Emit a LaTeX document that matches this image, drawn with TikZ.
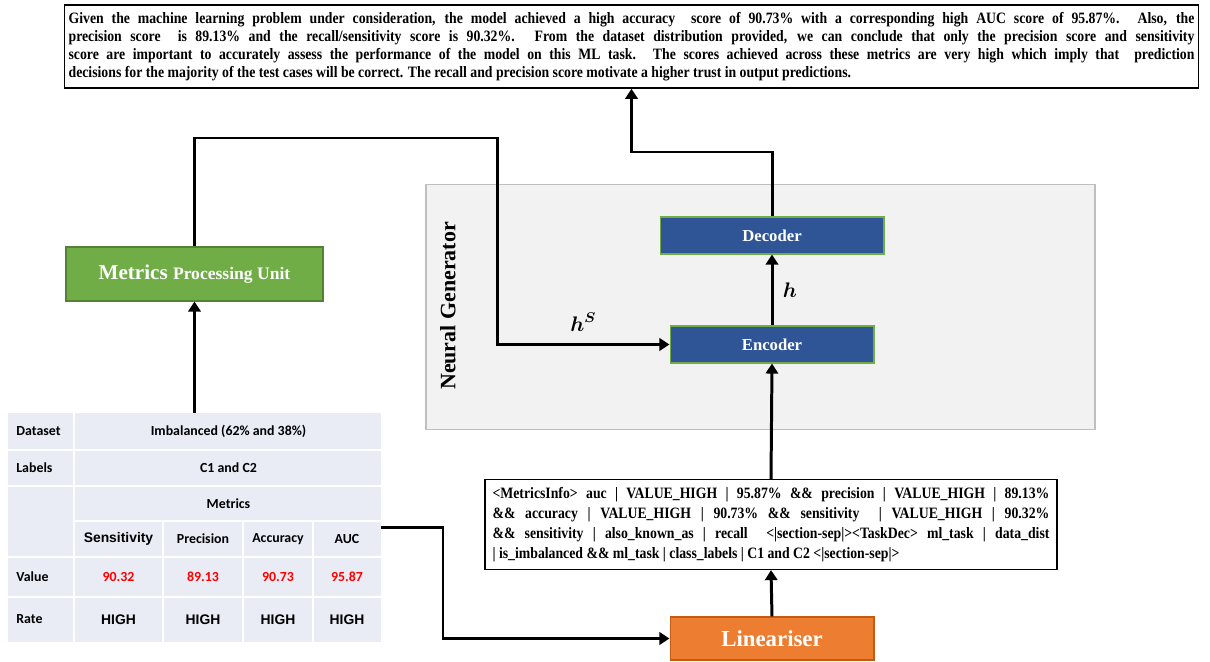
\documentclass[tikz,border=0pt]{standalone}
\usepackage{amsmath, amssymb}
\usepackage{fontspec}
\setmainfont{Liberation Serif}
\newfontfamily\condfont[FakeStretch=0.87]{Liberation Serif}
\newfontfamily\calfont{Carlito}
\newfontfamily\arifont{Liberation Sans}
\usepackage{xcolor}
\usetikzlibrary{arrows.meta}

\definecolor{encblue}{HTML}{2F5597}
\definecolor{mpugreen}{HTML}{70AD47}
\definecolor{mpuedge}{HTML}{548235}
\definecolor{linorange}{HTML}{ED7D31}
\definecolor{linedge}{HTML}{C55A11}
\definecolor{nggray}{HTML}{F2F2F2}
\definecolor{ngedge}{HTML}{BFBFBF}
\definecolor{tblbg}{HTML}{E9EBF5}
\definecolor{valred}{HTML}{FF0000}

\tikzset{
  arr/.style={line width=1.7pt, -{Triangle[length=5.7pt,width=7pt]}},
  bluebox/.style={fill=encblue, draw=mpugreen, line width=0.6pt, text=white,
    font=\bfseries\fontsize{9.5}{11}\selectfont, minimum height=0.74cm, inner sep=0pt},
  txtbox/.style={draw, line width=0.9pt, align=justify, fill=white},
  gridw/.style={white, line width=1.2pt},
  cellt/.style={font=\calfont\bfseries\fontsize{7.9}{9}\selectfont, inner sep=0pt},
  cella/.style={font=\arifont\bfseries\fontsize{7.9}{9}\selectfont, inner sep=0pt},
  cellv/.style={cellt, text=valred},
}

\begin{document}
\begin{tikzpicture}[x=0.02cm, y=-0.02cm]
  \useasboundingbox (0,0) rectangle (1210,662);

  % neural generator
  \node[fill=nggray, draw=ngedge, line width=0.8pt, minimum width=13.38cm, minimum height=4.9cm, inner sep=0pt] (ng) at (760.5,307) {};
  \node[rotate=90, font=\bfseries\fontsize{12.5}{14}\selectfont] (nglbl) at (448,306) {Neural Generator};
  \node[bluebox, minimum width=4.48cm] (dec) at (772,235.5) {Decoder};
  \node[bluebox, minimum width=4.08cm] (enc) at (772,344.5) {Encoder};

  % output text
  \node[txtbox, text width=22.52cm, minimum height=1.66cm, inner sep=0.08cm,
    font=\condfont\bfseries\fontsize{9}{10.2}\selectfont] (out) at (631.5,46.5)
    {Given the machine learning problem under consideration, the model achieved a high accuracy\ \ score of 90.73\% with a corresponding high AUC score of 95.87\%. Also, the\linebreak
     precision score\ \ is 89.13\% and the recall/sensitivity score is 90.32\%. From the dataset distribution provided, we can conclude that only the precision score and sensitivity\linebreak
     score are important to accurately assess the performance of the model on this ML task. The scores achieved across these metrics are very high which imply that\ \ prediction\linebreak
     decisions for the majority of the test cases will be correct. The recall and precision score motivate a higher trust in output predictions.};

  % linearised input
  \node[txtbox, text width=11.14cm, minimum height=1.7cm, inner sep=0.15cm,
    font=\condfont\bfseries\fontsize{9}{11.4}\selectfont] (lmr) at (771,524.5)
    {<MetricsInfo> auc | VALUE\_HIGH | 95.87\% \&\& precision | VALUE\_HIGH | 89.13\%\linebreak
     \&\& accuracy | VALUE\_HIGH | 90.73\% \&\& sensitivity\ \ | VALUE\_HIGH | 90.32\%\linebreak
     \&\& sensitivity | also\_known\_as | recall\ \ <|section-sep|><TaskDec> ml\_task | data\_dist\linebreak
     | is\_imbalanced \&\& ml\_task | class\_labels | C1 and C2 <|section-sep|>};

  \node[fill=linorange, draw=linedge, line width=0.6pt, text=white, minimum width=4.08cm, minimum height=0.86cm,
    inner sep=0pt, font=\bfseries\fontsize{13}{15}\selectfont] (lin) at (772,638.5) {Lineariser};

  \node[fill=mpugreen, draw=mpuedge, line width=0.6pt, text=white, minimum width=5.14cm, minimum height=1.08cm,
    inner sep=0pt, font=\bfseries] (mpu) at (194.5,274)
    {\fontsize{12}{14}\selectfont Metrics \fontsize{10}{14}\selectfont Processing Unit};

  % table
  \node[fill=tblbg, minimum width=7.46cm, minimum height=4.58cm, inner sep=0pt] (tbl) at (194.5,527.5) {};
  \foreach \yy in {450,486,557,597}
    \draw[gridw] (8,\yy) -- (381,\yy);
  \draw[gridw] (74,521) -- (381,521);
  \draw[gridw] (74,413) -- (74,642);
  \foreach \xx in {163,243,313}
    \draw[gridw] (\xx,521) -- (\xx,642);

  \node[cellt, anchor=west] (kds) at (16,431.5) {Dataset};
  \node[cellt, anchor=west] (klb) at (16,468) {Labels};
  \node[cellt, anchor=west] (kvl) at (16,577) {Value};
  \node[cellt, anchor=west] (krt) at (16,619.5) {Rate};
  \node[cellt] (vds) at (228.5,431.5) {Imbalanced (62\% and 38\%)};
  \node[cellt] (vlb) at (228.5,468) {C1 and C2};
  \node[cellt] (hmt) at (228.5,503.5) {Metrics};
  \node[cella] (hse) at (118.5,539) {Sensitivity};
  \node[cellt] (hpr) at (203,539) {Precision};
  \node[cellt] (hac) at (278,539) {Accuracy};
  \node[cellt] (hau) at (347,539) {AUC};
  \node[cellv] (vse) at (118.5,577) {90.32};
  \node[cellv] (vpr) at (203,577) {89.13};
  \node[cellv] (vac) at (278,577) {90.73};
  \node[cellv] (vau) at (347,577) {95.87};
  \node[cella] (rse) at (118.5,619.5) {HIGH};
  \node[cella] (rpr) at (203,619.5) {HIGH};
  \node[cella] (rac) at (278,619.5) {HIGH};
  \node[cella] (rau) at (347,619.5) {HIGH};

  % connectors
  \coordinate (turnA) at (631.5,152);
  \coordinate (turnB) at (497,138);
  \coordinate (turnC) at (443,580);
  \draw[arr] (tbl.north) -- (mpu.south);
  \draw[arr] (mpu.north) |- (turnB) |- node[pos=0.75, above=3pt, font=\fontsize{12}{14}\selectfont] (hslbl) {$\boldsymbol{h}^{\boldsymbol{S}}$} (enc.west);
  \draw[arr] (tbl.east) -| (turnC) |- (lin.west);
  \draw[arr] (lin.north) -- (lmr.south);
  \draw[arr] (lmr.north) -- (enc.south);
  \draw[arr] (enc.north) -- node[right=2pt, font=\fontsize{12}{14}\selectfont] (hlbl) {$\boldsymbol{h}$} (dec.south);
  \draw[arr] (dec.north) |- (turnA) -- (out.south);
\end{tikzpicture}
\end{document}
